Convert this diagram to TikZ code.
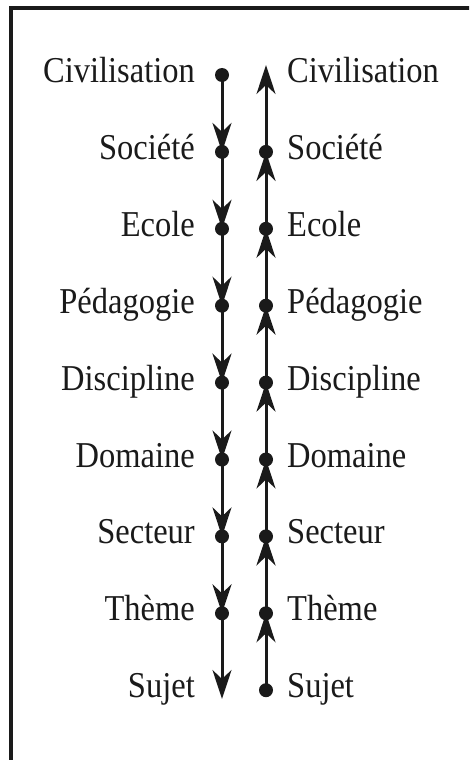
\documentclass[tikz,border=0pt]{standalone}
\usepackage{fontspec}
\usepackage{graphicx}
\setmainfont{Liberation Serif}
\usetikzlibrary{arrows.meta}
\definecolor{ink}{HTML}{1A1A1A}
% labels are set in a slightly tall cut
\newcommand{\tallword}[1]{\scalebox{1}[1.12]{#1}}
\tikzset{
  lbl/.style={font=\fontsize{32.5}{36}\selectfont, text=ink, inner sep=0pt},
  dotnode/.style={circle, fill=ink, inner sep=0pt, minimum size=14pt},
  flow/.style={draw=ink, line width=3pt,
    -{Stealth[length=29pt, width=19pt, inset=9pt]}},
  frame/.style={draw=ink, line width=3.2pt}
}
\begin{document}
\begin{tikzpicture}[x=1pt, y=-1pt]
  \useasboundingbox (0,0) rectangle (469,760);
  \clip (0,0) rectangle (469,760);
  \draw[frame] (11,8) rectangle (490,790);

  % rows: label on each side of the two chains
  \foreach \i/\t in {1/Civilisation, 2/Société, 3/Ecole, 4/Pédagogie,
                     5/Discipline, 6/Domaine, 7/Secteur, 8/Thème, 9/Sujet} {
    \pgfmathsetmacro{\yy}{75 + 76.9*(\i-1)}
    \node[lbl, anchor=base east] (l\i) at (195, \yy+7.5) {\tallword{\t}};
    \node[lbl, anchor=base west] (r\i) at (287, \yy+7.5) {\tallword{\t}};
  }
  \foreach \i in {1,...,8} {
    \pgfmathsetmacro{\yy}{75 + 76.9*(\i-1)}
    \node[dotnode] (a\i) at (222, \yy) {};
  }
  \foreach \i in {2,...,9} {
    \pgfmathsetmacro{\yy}{75 + 76.9*(\i-1)}
    \node[dotnode] (b\i) at (266, \yy) {};
  }
  \coordinate (aend) at (222, 699);
  \coordinate (bend) at (266, 65);

  % descending chain
  \foreach \i [evaluate=\i as \j using int(\i+1)] in {1,...,7}
    \draw[flow] (a\i.center) -- (a\j.center);
  \draw[flow] (a8.center) -- (aend);

  % ascending chain
  \foreach \i [evaluate=\i as \j using int(\i-1)] in {9,...,3}
    \draw[flow] (b\i.center) -- (b\j.center);
  \draw[flow] (b2.center) -- (bend);
\end{tikzpicture}
\end{document}
